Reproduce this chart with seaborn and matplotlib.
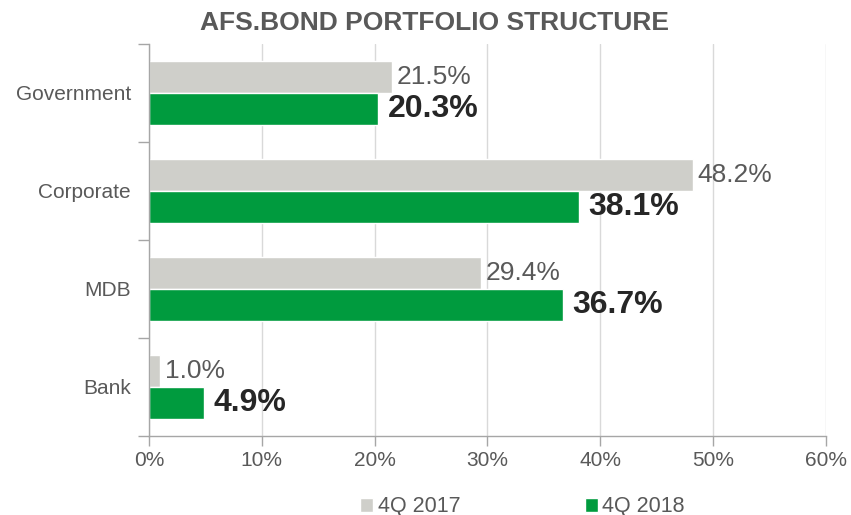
import pandas as pd
import seaborn as sns
import matplotlib.pyplot as plt
from matplotlib.patches import Patch
from matplotlib.ticker import FixedLocator, PercentFormatter

# data
categories = ["Government", "Corporate", "MDB", "Bank"]
share_2017 = [21.5, 48.2, 29.4, 1.0]
share_2018 = [20.3, 38.1, 36.7, 4.9]
periods = ["4Q 2017", "4Q 2018"]

df = pd.DataFrame({
    "category": categories * 2,
    "period": [periods[0]] * 4 + [periods[1]] * 4,
    "share": share_2017 + share_2018,
})

sns.set_theme(style="white")
plt.rcParams['font.family'] = ['Liberation Sans', 'DejaVu Sans']

gray = "#CFCFCA"
green = "#009B3E"
axis_col = "#A6A6A6"
text_col = "#595959"

fig = plt.figure(figsize=(8.51, 5.15), dpi=100)
ax = fig.add_axes([0.175, 0.1534, 0.7956, 0.7612])

sns.barplot(data=df, y="category", x="share", hue="period", order=categories,
            hue_order=periods, palette=[gray, green], orient="h",
            width=0.66, gap=0, saturation=1, ax=ax, legend=False)

ax.set_xlim(0, 60)
ax.set_ylim(3.5, -0.5)
ax.set_xticks(range(0, 61, 10))
ax.xaxis.set_major_formatter(PercentFormatter(decimals=0))
ax.set_xlabel("")
ax.set_ylabel("")

# grid + spines
ax.grid(axis="x", color="#D9D9D9", linewidth=1)
ax.set_axisbelow(True)
for s in ["top", "right"]:
    ax.spines[s].set_visible(False)
for s in ["left", "bottom"]:
    ax.spines[s].set_color(axis_col)
    ax.spines[s].set_linewidth(1)

# category labels centred, tick marks on the boundaries
ax.yaxis.set_minor_locator(FixedLocator([-0.5, 0.5, 1.5, 2.5, 3.5]))
ax.tick_params(axis="y", which="major", length=0, pad=13, labelsize=15, labelcolor=text_col)
ax.tick_params(axis="y", which="minor", length=8, width=1, color=axis_col, left=True)
ax.tick_params(axis="x", length=7, width=1, color=axis_col, bottom=True,
               labelsize=15, labelcolor=text_col, pad=4)

# value labels
ax.bar_label(ax.containers[0], labels=[f"{v:.1f}%" for v in share_2017],
             padding=3.5, fontsize=19, color=text_col)
ax.bar_label(ax.containers[1], labels=[f"{v:.1f}%" for v in share_2018],
             padding=7, fontsize=23, fontweight="bold", color="#262626")

fig.text(0.511, 0.955, "AFS.BOND PORTFOLIO STRUCTURE", ha="center", va="center",
         fontsize=19, fontweight="bold", color=text_col)

handles = [Patch(facecolor=gray, label=periods[0]), Patch(facecolor=green, label=periods[1])]
fig.legend(handles=handles, loc="center", bbox_to_anchor=(0.614, 0.016), ncol=2,
           frameon=False, fontsize=15.5, handlelength=0.6, handleheight=0.6,
           handletextpad=0.2, columnspacing=5.8, labelcolor=text_col)

plt.savefig("out.png", dpi=100)
